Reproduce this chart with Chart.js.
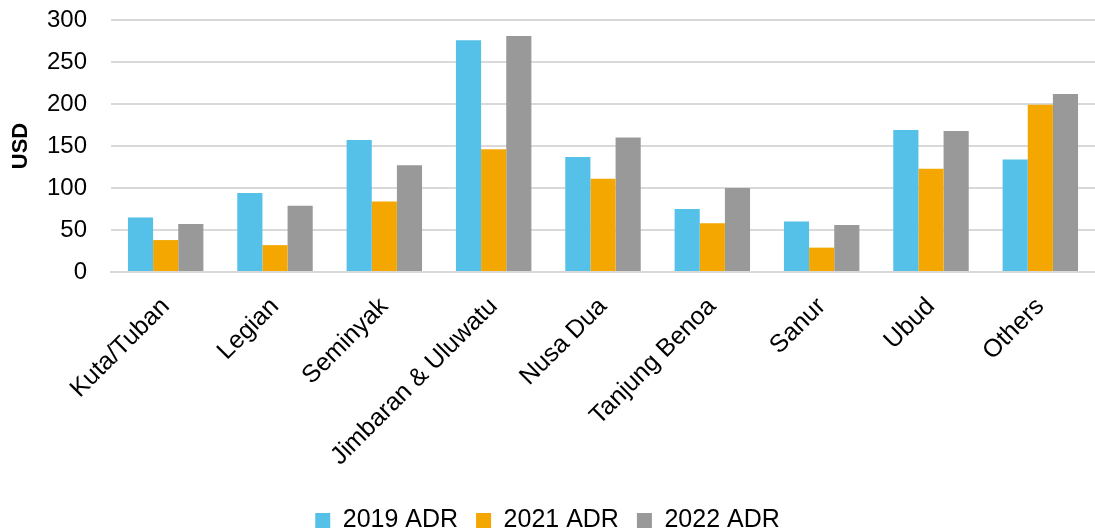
<!DOCTYPE html>
<html>
<head>
<meta charset="utf-8">
<script src="https://cdn.jsdelivr.net/npm/chart.js@4.4.1/dist/chart.umd.min.js"></script>
<style>
  html, body { margin: 0; padding: 0; background: #fff; }
  #wrap { width: 1095px; height: 529px; }
</style>
</head>
<body>
<div id="wrap"><canvas id="adrChart"></canvas></div>
<script>
// Average daily rate by area (USD)
const areas = ['Kuta/Tuban', 'Legian', 'Seminyak', 'Jimbaran & Uluwatu', 'Nusa Dua',
               'Tanjung Benoa', 'Sanur', 'Ubud', 'Others'];
const adr2019 = [65, 94, 157, 276, 137, 75, 60, 169, 134];
const adr2021 = [38, 32, 84, 146, 111, 58, 29, 123, 199];
const adr2022 = [57, 79, 127, 281, 160, 100, 56, 168, 212];
const yTicks = [0, 50, 100, 150, 200, 250, 300];

const font = 'Arial, "Liberation Sans", sans-serif';

const ctx = document.getElementById('adrChart').getContext('2d');

new Chart(ctx, {
    type: 'bar',
    data: {
        labels: areas,
        datasets: [
            { label: '2019 ADR', data: adr2019, backgroundColor: '#55C0E8' },
            { label: '2021 ADR', data: adr2021, backgroundColor: '#F4A700' },
            { label: '2022 ADR', data: adr2022, backgroundColor: '#999999' }
        ]
    },
    options: {
        responsive: true,
        maintainAspectRatio: false,
        animation: false,
        layout: { padding: { top: 20, right: 0, bottom: 0, left: 0 } },
        datasets: {
            bar: { barPercentage: 1, categoryPercentage: 0.69 }
        },
        plugins: {
            legend: {
                position: 'bottom',
                maxHeight: 39,
                labels: {
                    color: '#000',
                    font: { family: font, size: 25 },
                    boxWidth: 15,
                    boxHeight: 15,
                    padding: 18
                }
            },
            tooltip: { enabled: false }
        },
        scales: {
            x: {
                grid: { display: false },
                border: { display: true, color: '#d9d9d9', width: 2 },
                ticks: {
                    color: '#000',
                    font: { family: font, size: 25 },
                    minRotation: 45,
                    maxRotation: 45,
                    padding: 12
                },
                afterFit: scale => { scale.height = 218; }
            },
            y: {
                min: 0,
                max: 300,
                afterBuildTicks: scale => { scale.ticks = yTicks.map(v => ({ value: v })); },
                grid: { color: '#d9d9d9', lineWidth: 2, drawTicks: false },
                border: { display: false },
                ticks: {
                    color: '#000',
                    font: { family: font, size: 24 },
                    padding: 24
                },
                title: {
                    display: true,
                    text: 'USD',
                    color: '#000',
                    font: { family: font, size: 22, weight: 'bold' },
                    padding: { top: 8, bottom: 0 }
                },
                afterFit: scale => {
                    scale.width = 111;
                    scale.paddingTop = 0;
                    scale.paddingBottom = 0;
                }
            }
        }
    }
});
</script>
</body>
</html>
